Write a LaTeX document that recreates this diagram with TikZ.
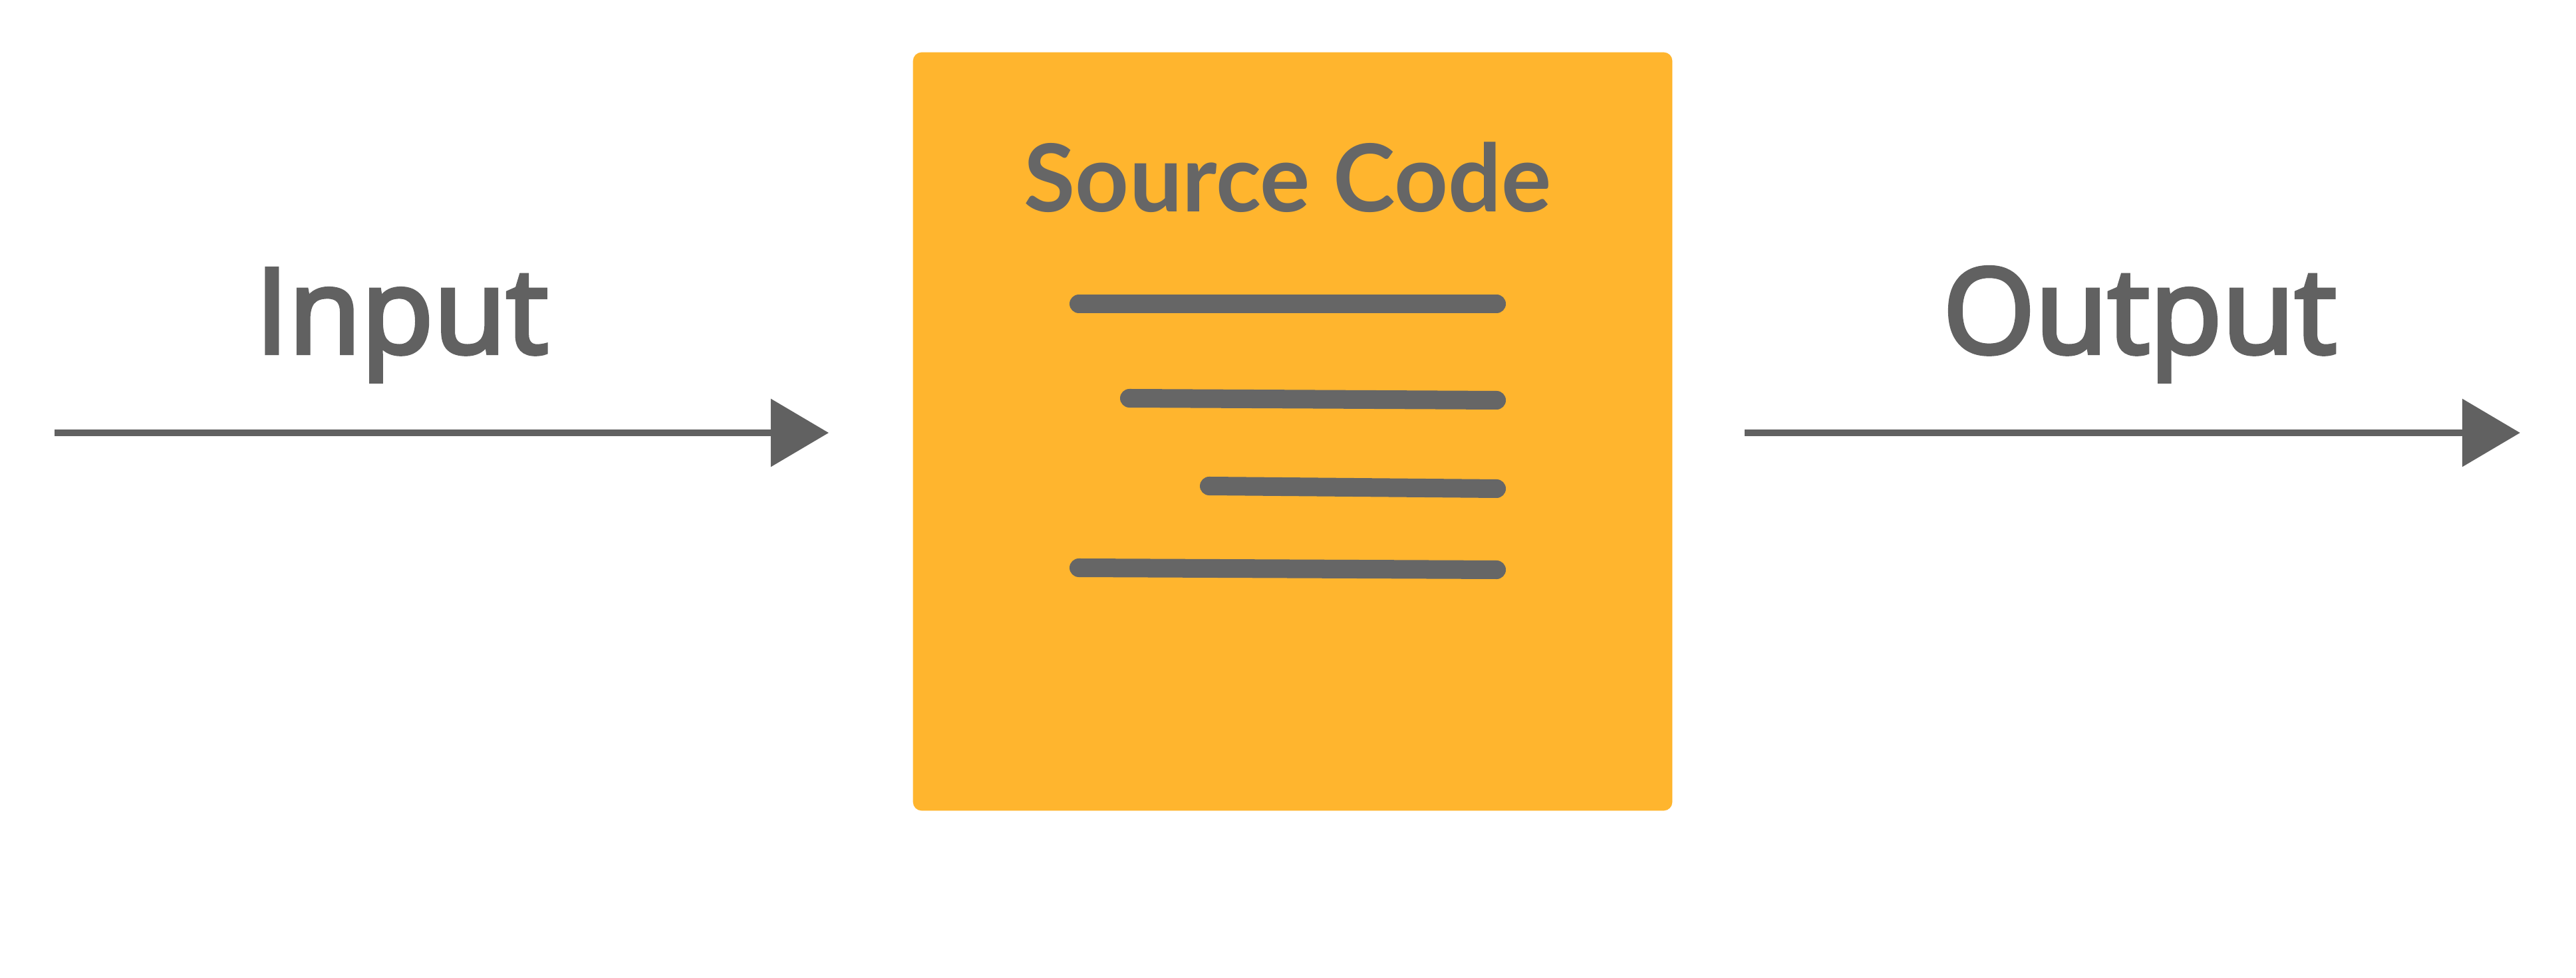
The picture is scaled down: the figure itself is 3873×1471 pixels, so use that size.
\documentclass[tikz,border=0pt]{standalone}
\usepackage{fontspec}
\usepackage{xcolor}
\usepackage{tikz}
\usetikzlibrary{arrows.meta}

\newfontfamily\iofont{Open Sans}[FakeBold=3.5]
\newfontfamily\titlefont{Lato}

\definecolor{codeorange}{HTML}{FFB52E}
\definecolor{arrowgray}{HTML}{616161}
\definecolor{textgray}{HTML}{666666}

\begin{document}
\begin{tikzpicture}[x=0.01cm,y=-0.01cm,
    iolabel/.style={text=arrowgray,font=\iofont\fontsize{50.6}{60}\selectfont,inner sep=0pt,anchor=base},
    flow/.style={arrowgray,line width=0.1cm,-{Triangle[length=0.87cm,width=1cm]}},
    codeline/.style={textgray,line width=0.28cm,line cap=round}]

    \useasboundingbox (0,0) rectangle (3873,1471);

    % the program box
    \node[fill=codeorange,rounded corners=0.13cm,minimum width=11.41cm,minimum height=11.4cm,inner sep=0pt] (src) at (1943.5,649) {};
    \node[text=textgray,font=\titlefont\bfseries\fontsize{40.1}{48}\selectfont,inner sep=0pt,anchor=base] (title) at (1936,319) {Source Code};

    % lines of code
    \draw[codeline] (1622,457) -- (2250,457);
    \draw[codeline] (1698,599) -- (2250,602);
    \draw[codeline] (1818,731) -- (2250,735);
    \draw[codeline] (1622,854) -- (2250,857);

    % input arrow
    \coordinate (inStart) at (82,651);
    \coordinate (inEnd) at (1246,651);
    \draw[flow] (inStart) -- (inEnd);
    \node[iolabel] (input) at (604,531) {Input};

    % output arrow
    \coordinate (outStart) at (2623,651);
    \coordinate (outEnd) at (3789,651);
    \draw[flow] (outStart) -- (outEnd);
    \node[iolabel] (output) at (3217,531) {Output};

\end{tikzpicture}
\end{document}
